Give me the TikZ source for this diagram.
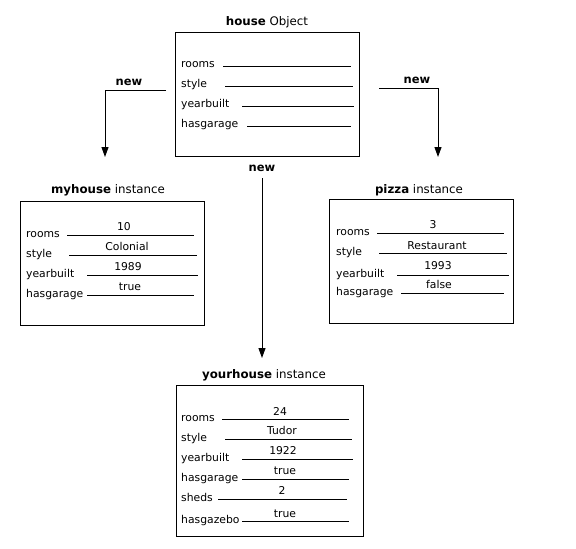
\documentclass[tikz,border=0pt]{standalone}
\usepackage{fontspec}
\setmainfont{DejaVu Sans}
\usepackage{tikz}
\usetikzlibrary{arrows.meta}

\begin{document}
\begin{tikzpicture}[
        x=1pt, y=-1pt,
        font=\fontsize{10.8}{13}\selectfont,
        objbox/.style={rectangle, draw=black, line width=1pt, inner sep=0pt},
        title/.style={anchor=base, inner sep=0pt, font=\fontsize{11.8}{13}\selectfont},
        fieldname/.style={anchor=base west, inner sep=0pt},
        fieldval/.style={anchor=base, inner sep=0pt},
        blank/.style={line width=1pt},
        newlabel/.style={anchor=base, inner sep=0pt, font=\fontsize{11.5}{13}\selectfont\bfseries},
        arrow/.style={-{Triangle[width=7pt, length=10pt]}, line width=1pt}
    ]
        \useasboundingbox (0,0) rectangle (576,549);

        % house object
        \node[title] (housetitle) at (267,25) {\textbf{house} Object};
        \node[objbox, minimum width=184pt, minimum height=124pt] (house) at (267,94) {};
        \node[fieldname] (hrooms) at (181,67) {rooms};
        \node[fieldname] (hstyle) at (181,87) {style};
        \node[fieldname] (hyear) at (181,107) {yearbuilt};
        \node[fieldname] (hgarage) at (181,127) {hasgarage};
        \draw[blank] (223,66) -- (351,66);
        \draw[blank] (225,86) -- (353,86);
        \draw[blank] (242,106) -- (354,106);
        \draw[blank] (247,126) -- (351,126);

        % myhouse instance
        \node[title] (mytitle) at (108,193) {\textbf{myhouse} instance};
        \node[objbox, minimum width=184pt, minimum height=124pt] (myhouse) at (112,263) {};
        \node[fieldname] (mrooms) at (26,237) {rooms};
        \node[fieldname] (mstyle) at (26,257) {style};
        \node[fieldname] (myear) at (26,277) {yearbuilt};
        \node[fieldname] (mgarage) at (26,297) {hasgarage};
        \node[fieldval] (mroomsval) at (124,230) {10};
        \node[fieldval] (mstyleval) at (127,250) {Colonial};
        \node[fieldval] (myearval) at (128,270) {1989};
        \node[fieldval] (mgarageval) at (130,290) {true};
        \draw[blank] (67,235) -- (194,235);
        \draw[blank] (69,255) -- (197,255);
        \draw[blank] (87,275) -- (198,275);
        \draw[blank] (87,295) -- (194,295);

        % pizza instance
        \node[title] (pizzatitle) at (419,193) {\textbf{pizza} instance};
        \node[objbox, minimum width=184pt, minimum height=124pt] (pizza) at (421,261) {};
        \node[fieldname] (prooms) at (336,235) {rooms};
        \node[fieldname] (pstyle) at (336,255) {style};
        \node[fieldname] (pyear) at (336,277) {yearbuilt};
        \node[fieldname] (pgarage) at (336,295) {hasgarage};
        \node[fieldval] (proomsval) at (433,228) {3};
        \node[fieldval] (pstyleval) at (437,249) {Restaurant};
        \node[fieldval] (pyearval) at (438,269) {1993};
        \node[fieldval] (pgarageval) at (439,288) {false};
        \draw[blank] (377,233) -- (504,233);
        \draw[blank] (379,253) -- (507,253);
        \draw[blank] (397,275) -- (509,275);
        \draw[blank] (401,293) -- (504,293);

        % yourhouse instance
        \node[title] (yourtitle) at (264,378) {\textbf{yourhouse} instance};
        \node[objbox, minimum width=187pt, minimum height=151pt] (yourhouse) at (269.5,460.5) {};
        \node[fieldname] (yrooms) at (181,421) {rooms};
        \node[fieldname] (ystyle) at (181,441) {style};
        \node[fieldname] (yyear) at (181,461) {yearbuilt};
        \node[fieldname] (ygarage) at (181,481) {hasgarage};
        \node[fieldname] (ysheds) at (181,501) {sheds};
        \node[fieldname] (ygazebo) at (181,523) {hasgazebo};
        \node[fieldval] (yroomsval) at (280,415) {24};
        \node[fieldval] (ystyleval) at (282,434) {Tudor};
        \node[fieldval] (yyearval) at (283,454) {1922};
        \node[fieldval] (ygarageval) at (285,474) {true};
        \node[fieldval] (yshedsval) at (282,494) {2};
        \node[fieldval] (ygazeboval) at (285,517) {true};
        \draw[blank] (222,419) -- (349,419);
        \draw[blank] (225,439) -- (352,439);
        \draw[blank] (242,459) -- (353,459);
        \draw[blank] (242,479) -- (349,479);
        \draw[blank] (218,499) -- (347,499);
        \draw[blank] (242,521) -- (349,521);

        % new arrows
        \coordinate (lstart) at (166,90);
        \coordinate (lend) at (105,157);
        \coordinate (rstart) at (379,88);
        \coordinate (rend) at (438,157);
        \coordinate (cstart) at (262,178);
        \coordinate (cend) at (262,358);
        \node[newlabel] (newleft) at (129,85) {new};
        \node[newlabel] (newright) at (417,83) {new};
        \node[newlabel] (newcenter) at (262,171) {new};
        \draw[arrow] (lstart) -| (lend);
        \draw[arrow] (rstart) -| (rend);
        \draw[arrow] (cstart) -- (cend);
    \end{tikzpicture}
\end{document}
